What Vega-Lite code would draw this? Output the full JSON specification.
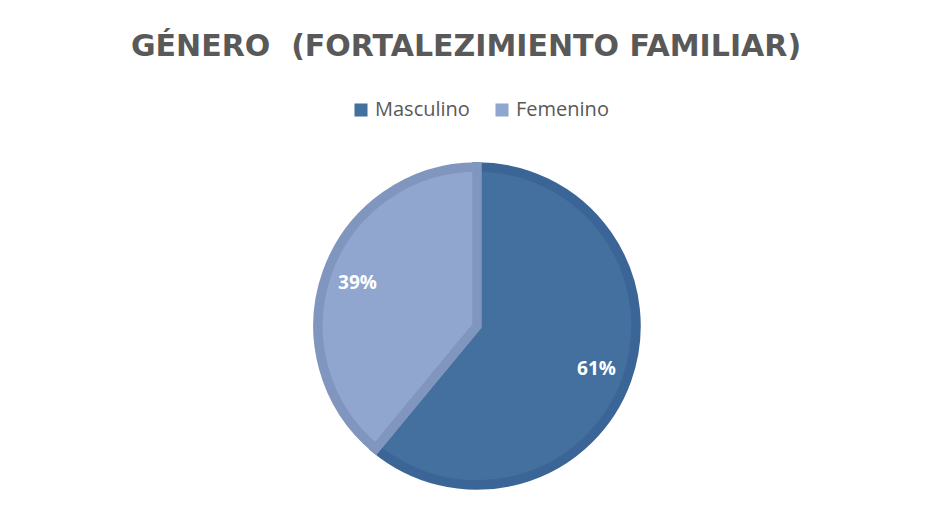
{
  "$schema": "https://vega.github.io/schema/vega-lite/v6.json",
  "autosize": "none",
  "width": 914,
  "height": 374,
  "padding": {"left": 20, "top": 139, "right": 0, "bottom": 0},
  "background": "white",
  "title": {
    "text": "GÉNERO\u00a0\u00a0(FORTALEZIMIENTO FAMILIAR)",
    "orient": "top",
    "anchor": "middle",
    "offset": 38,
    "dx": -11,
    "font": "DejaVu Sans",
    "fontSize": 30,
    "fontWeight": "bold",
    "color": "#595959"
  },
  "data": {
    "values": [
      {"genero": "Masculino", "porcentaje": 61, "orden": 1, "etiqueta": "61%"},
      {"genero": "Femenino", "porcentaje": 39, "orden": 2, "etiqueta": "39%"}
    ]
  },
  "encoding": {
    "theta": {"field": "porcentaje", "type": "quantitative", "stack": true},
    "order": {"field": "orden", "type": "quantitative"}
  },
  "layer": [
    {
      "mark": {"type": "arc", "radius": 159, "strokeWidth": 9.5, "strokeJoin": "miter"},
      "encoding": {
        "fill": {
          "field": "genero",
          "type": "nominal",
          "scale": {"domain": ["Masculino", "Femenino"], "range": ["#44709F", "#91A6CE"]},
          "legend": {
            "orient": "none",
            "legendX": 331,
            "legendY": -39,
            "direction": "horizontal",
            "title": null,
            "symbolType": "square",
            "symbolSize": 170,
            "symbolStrokeWidth": 0,
            "labelFont": "Open Sans",
            "labelFontSize": 20,
            "labelColor": "#595959",
            "columnPadding": 22,
            "labelOffset": 4
          }
        },
        "stroke": {
          "field": "genero",
          "type": "nominal",
          "scale": {"domain": ["Masculino", "Femenino"], "range": ["#3B6596", "#8196BE"]},
          "legend": null
        }
      }
    },
    {
      "mark": {"type": "text", "radius": 127, "font": "Open Sans", "fontSize": 19, "fontWeight": "bold", "color": "white", "align": "center", "baseline": "middle"},
      "encoding": {
        "text": {"field": "etiqueta", "type": "nominal"}
      }
    }
  ]
}
